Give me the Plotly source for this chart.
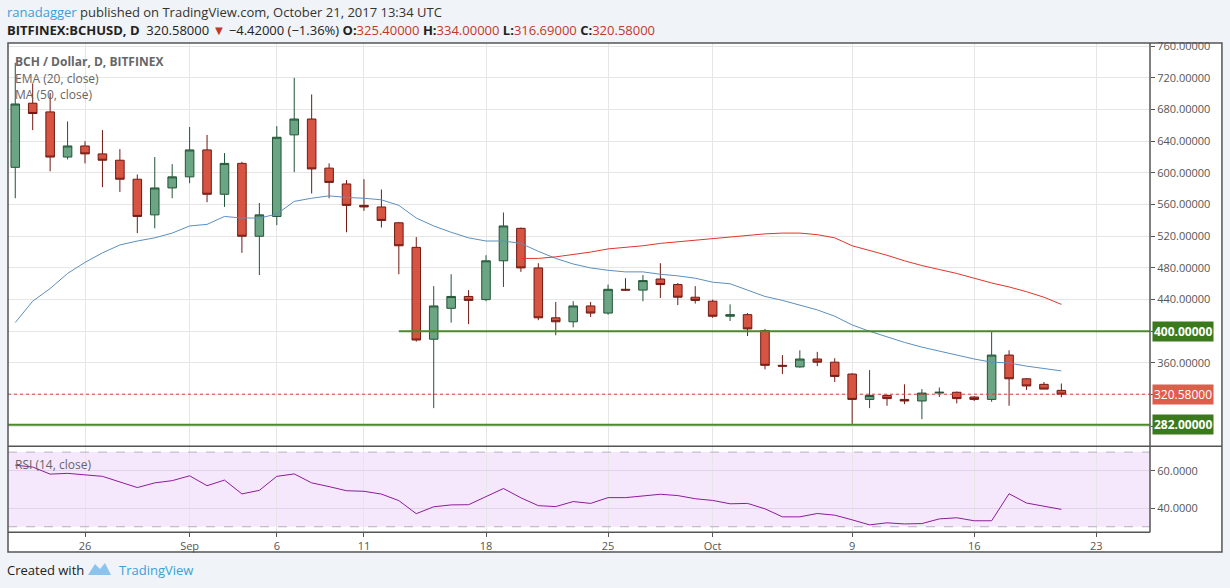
import pandas as pd
import plotly.graph_objects as go

dates = pd.date_range("2017-08-22", periods=61, freq="D")
opens = [607,688,677,620,634,624,616,592,547,581,595,629,573,612,520,545,648,668,606,586,559,557,537,506,390,429,444,440,489,530,
         480,417,412,432,423,453,452,466,459,443,438,419,421,401,357,355,365,361,346,314,319,314,312,322,323,317,314,370,340,333,325.4]
highs = [739,713,701,665,640,654,630,598,620,611,658,648,625,614,562,659,720,699,612,591,592,579,538,519,457,472,452,496,550,531,
         486,437,438,437,459,467,471,486,461,457,440,434,423,403,370,376,374,366,347,351,320,333,327,329,324,318,399,376,341,336,334]
lows = [568,654,602,617,612,582,576,524,530,568,587,563,557,499,471,534,601,574,568,525,552,531,472,387,303,411,409,438,456,475,
        414,395,405,418,421,451,438,442,433,435,417,413,394,352,346,354,356,336,283,303,306,308,289,317,309,312,311,306,326,327,316.69]
closes = [687,675,620,634,624,616,592,545,581,595,629,573,612,520,547,645,668,605,588,559,557,540,508,389,432,444,439,489,533,480,
          417,412,432,423,453,452,464,459,443,439,419,421,403,357,356,365,361,343,314,319,315,312,322,323,315,314,370,340,331,327,320.58]
ema20 = [411,438,454,473,487,499,509,514,518,524,533,535,545,543,543,548,564,568,571,569,568,566,559,543,533,525,518,514,514,511,
         501,492,485,480,477,475,475,472,470,467,462,460,452,444,439,433,427,419,408,400,393,386,380,375,370,365,361,360,356,353,350]
ma50_dates = pd.date_range("2017-09-20", periods=32, freq="D")
ma50 = [492,492,494,497,500,504,506,508,511,513,515,
        517,519,521,523,524,524,522,518,508,502,496,489,483,478,473,467,461,456,450,443,434]
rsi = [63,62,58.2,58.6,57.8,57,54,51,53.5,54.7,57.3,52,55,47.6,49.5,57,58.3,53.5,51.5,49.3,49,47.5,44,37,40.7,41.7,41.8,46,50.5,45.5,
       41.3,40.8,43.5,42.5,45.6,45.6,46.5,47.4,46.7,45,44.1,42.3,42.5,39.6,35.3,35.3,37.1,36.2,33.7,31,32.1,31.5,31.7,34.2,34.8,33.2,33.2,47.7,42.7,40.9,39.3]
tick_dates = ["2017-08-26","2017-09-01","2017-09-06","2017-09-11","2017-09-18","2017-09-25","2017-10-01","2017-10-09","2017-10-16","2017-10-23"]
tick_text = ["26","Sep","6","11","18","25","Oct","9","16","23"]
price_ticks = [280,320,360,400,440,480,520,560,600,640,680,720,760]
hidden_ticks = [280,320,400]
rsi_ticks = [40,60]
levels = [400, 282]
last_close = 320.58

FONT = "Open Sans"
fig = go.Figure()
fig.add_trace(go.Scatter(x=dates, y=ema20, mode="lines", line=dict(color="#5b8fbd", width=1), hoverinfo="skip"))
fig.add_trace(go.Scatter(x=ma50_dates, y=ma50, mode="lines", line=dict(color="#e0352b", width=1), hoverinfo="skip"))
fig.add_trace(go.Candlestick(x=dates, open=opens, high=highs, low=lows, close=closes,
    increasing=dict(fillcolor="#6ba583", line=dict(color="#225437", width=1)),
    decreasing=dict(fillcolor="#d75442", line=dict(color="#6f1a12", width=1)),
    whiskerwidth=0))
fig.add_trace(go.Scatter(x=dates, y=rsi, mode="lines", line=dict(color="#8e1a9a", width=1), xaxis="x2", yaxis="y2", hoverinfo="skip"))

xr = ["2017-08-21 14:00", "2017-10-26 02:00"]
grid = "#e6e6e6"
fig.update_layout(
    width=1230, height=588, showlegend=False,
    margin=dict(l=8, r=80, t=43, b=36),
    paper_bgcolor="#f0f3f7", plot_bgcolor="white",
    font=dict(family=FONT, color="#555", size=11),
    xaxis=dict(range=xr, domain=[0,1], tickvals=tick_dates, ticktext=tick_text, showticklabels=False,
               gridcolor=grid, rangeslider=dict(visible=False), anchor="y", zeroline=False),
    yaxis=dict(domain=[0.208,1], range=[255,764], side="right", tickvals=price_ticks,
               ticktext=["" if v in hidden_ticks else f"{v:.5f}" for v in price_ticks], gridcolor=grid, ticks="outside", ticklen=4,
               tickcolor="#555", zeroline=False, tickfont=dict(size=11, color="#555")),
    xaxis2=dict(range=xr, domain=[0,1], tickvals=tick_dates, ticktext=tick_text, gridcolor=grid, anchor="y2",
                ticks="outside", ticklen=4, tickcolor="#555", zeroline=False, tickfont=dict(size=11, color="#555")),
    yaxis2=dict(domain=[0.039,0.208], range=[27.1,73.2], side="right", anchor="x2", tickvals=rsi_ticks,
                ticktext=["40.0000","60.0000"], gridcolor="#e2d2ea", ticks="outside", ticklen=4, tickcolor="#555",
                zeroline=False, tickfont=dict(size=11, color="#555")),
)
shapes = []
shapes.append(dict(type="rect", xref="paper", yref="paper", x0=1, x1=1.063, y0=0, y1=1, fillcolor="white", line=dict(width=0), layer="below"))
shapes.append(dict(type="rect", xref="paper", yref="paper", x0=0, x1=1, y0=0, y1=0.039, fillcolor="white", line=dict(width=0), layer="below"))
shapes.append(dict(type="rect", xref="x2", yref="y2", x0=xr[0], x1=xr[1], y0=30, y1=70, fillcolor="rgba(236,210,250,0.5)", line=dict(width=0), layer="below"))
for v in (30, 70):
    shapes.append(dict(type="line", xref="paper", yref="y2", x0=0, x1=1, y0=v, y1=v, line=dict(color="#b8b0c0", width=1, dash="dash")))
shapes.append(dict(type="line", xref="paper", yref="y", x0=0, x1=1, y0=last_close, y1=last_close, line=dict(color="#d0483a", width=1, dash="dot")))
shapes.append(dict(type="line", xref="x", yref="y", x0="2017-09-13", x1=xr[1], y0=levels[0], y1=levels[0], line=dict(color="#4a8a2a", width=2)))
shapes.append(dict(type="line", xref="paper", yref="y", x0=0, x1=1, y0=levels[1], y1=levels[1], line=dict(color="#4a8a2a", width=2)))
# frame
shapes.append(dict(type="rect", xref="paper", yref="paper", x0=0, x1=1.063, y0=0, y1=1, line=dict(color="#555", width=1.5)))
shapes.append(dict(type="line", xref="paper", yref="paper", x0=0, x1=1.063, y0=0.208, y1=0.208, line=dict(color="#555", width=1.5)))
shapes.append(dict(type="line", xref="paper", yref="paper", x0=0, x1=1, y0=0.039, y1=0.039, line=dict(color="#555", width=1.5)))
shapes.append(dict(type="line", xref="paper", yref="paper", x0=1, x1=1, y0=0.039, y1=1, line=dict(color="#555", width=1.5)))
def px(x): return (x - 8) / 1142
def py(y): return (552 - y) / 509
logo = f"M {px(88)} {py(575)} L {px(95)} {py(564)} L {px(100)} {py(569)} L {px(105)} {py(563)} L {px(111)} {py(575)} Z"
shapes.append(dict(type="path", xref="paper", yref="paper", path=logo, fillcolor="#8cc3ec", line=dict(width=0)))
fig.update_layout(shapes=shapes)

ann = []
def box(val, txt, col):
    ann.append(dict(xref="paper", yref="y", x=1.0015, y=val, text=txt, showarrow=False, xanchor="left", yanchor="middle",
                    bgcolor=col, font=dict(color="white", size=12, family=FONT), borderpad=1))
box(levels[0], "<b>400.00000</b>", "#3b7a1c")
box(last_close, "320.58000", "#df5d4b")
box(levels[1], "<b>282.00000</b>", "#3b7a1c")
R = "#c0392b"
ann.append(dict(xref="paper", yref="paper", x=px(5), y=py(12), xanchor="left", yanchor="middle", showarrow=False,
    text="<span style='color:#3ca0d8'>ranadagger</span> published on TradingView.com, October 21, 2017 13:34 UTC",
    font=dict(size=13, color="#333", family=FONT)))
ann.append(dict(xref="paper", yref="paper", x=px(5), y=py(30), xanchor="left", yanchor="middle", showarrow=False,
    text=f"<b>BITFINEX:BCHUSD, D</b>  320.58000 <span style='color:{R}'>▼</span> −4.42000 (−1.36%) "
         f"<b>O:</b><span style='color:{R}'>325.40000</span> <b>H:</b><span style='color:{R}'>334.00000</span> "
         f"<b>L:</b><span style='color:{R}'>316.69000</span> <b>C:</b><span style='color:{R}'>320.58000</span>",
    font=dict(size=13, color="#222", family=FONT)))
for yy, t in [(61, "<b>BCH / Dollar, D, BITFINEX</b>"), (78, "EMA (20, close)"), (95, "MA (50, close)"), (464, "RSI (14, close)")]:
    ann.append(dict(xref="paper", yref="paper", x=px(13), y=py(yy), xanchor="left", yanchor="middle", showarrow=False, text=t,
                    font=dict(size=12, color="#666", family=FONT)))
ann.append(dict(xref="paper", yref="paper", x=px(5), y=py(570), xanchor="left", yanchor="middle", showarrow=False, text="Created with",
                font=dict(size=13, color="#222", family=FONT)))
ann.append(dict(xref="paper", yref="paper", x=px(117), y=py(570), xanchor="left", yanchor="middle", showarrow=False, text="TradingView",
                font=dict(size=13, color="#3ca0d8", family=FONT)))
fig.update_layout(annotations=ann)
fig.write_html("out.html", config={"displayModeBar": False})
with open("out.html") as f:
    h = f.read()
h = h.replace("<body>", "<body style=\"margin:0;overflow:hidden\">", 1)
with open("out.html", "w") as f:
    f.write(h)
